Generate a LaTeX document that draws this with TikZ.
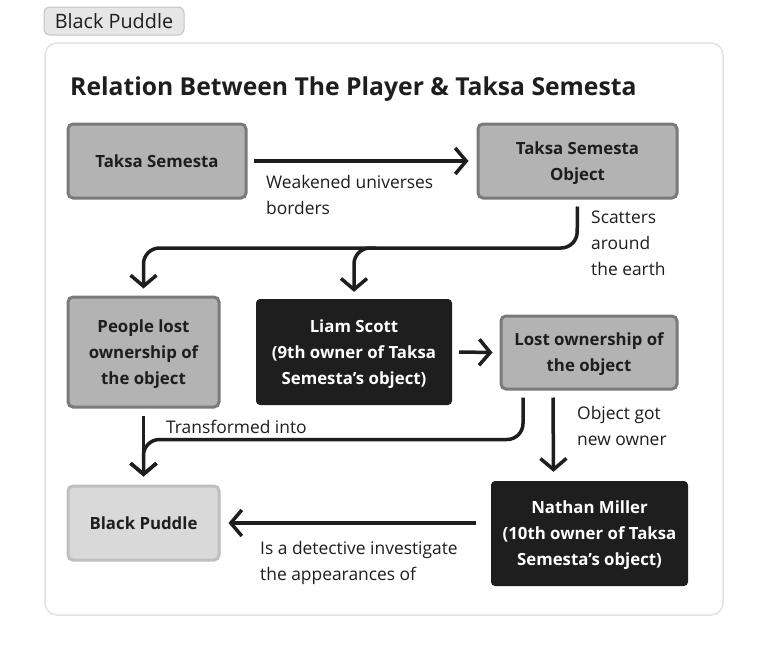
\documentclass[tikz,border=0pt]{standalone}
\usepackage{fontspec}
\setmainfont{Open Sans}
\usetikzlibrary{arrows.meta, positioning, calc}
\definecolor{boxGray}{HTML}{B3B3B3}
\definecolor{edgeGray}{HTML}{7A7A7A}
\definecolor{boxLight}{HTML}{D9D9D9}
\definecolor{edgeLight}{HTML}{BFBFBF}
\definecolor{inkDark}{HTML}{1E1E1E}
\definecolor{cardEdge}{HTML}{E2E2E2}
\definecolor{tabFill}{HTML}{E6E6E6}
\definecolor{tabEdge}{HTML}{C4C4C4}
\tikzset{
  boxText/.style={align=center, inner sep=0pt, font=\fontsize{16.8}{26}\selectfont\bfseries,
                  text depth=-2.5pt},
  grayBox/.style={boxText, draw=edgeGray, line width=3pt, fill=boxGray, rounded corners=5pt, text=inkDark},
  darkBox/.style={boxText, fill=inkDark, rounded corners=4pt, text=white},
  lightBox/.style={boxText, draw=edgeLight, line width=3pt, fill=boxLight, rounded corners=5pt, text=inkDark},
  note/.style={anchor=north west, align=left, inner sep=0pt, text=inkDark,
               font=\fontsize{17.4}{26}\selectfont},
  flow/.style={-{Straight Barb[length=11pt, width=26pt]}, line width=3.5pt, draw=inkDark,
               rounded corners=16pt},
}

\begin{document}
\begin{tikzpicture}[x=1pt, y=-1pt]
\useasboundingbox (0,0) rectangle (768,659);
% frame and tab
\node[draw=tabEdge, line width=1pt, fill=tabFill, rounded corners=6pt,
      minimum width=140pt, minimum height=28pt, inner sep=0pt,
      font=\fontsize{19.8}{22}\selectfont, text=inkDark] (tab) at (114,21) {Black Puddle};
\node[draw=cardEdge, line width=1.5pt, fill=white, rounded corners=12pt,
      minimum width=678pt, minimum height=572pt] (panel) at (384,329) {};
\node[anchor=west, inner sep=0pt, text=inkDark, font=\fontsize{24.7}{30}\selectfont\bfseries]
      (title) at (70,89) {Relation Between The Player \& Taksa Semesta};
% boxes
\node[grayBox, minimum width=178pt, minimum height=74pt] (ts) at (157,161) {Taksa Semesta};
\node[grayBox, minimum width=199pt, minimum height=74pt] (tso) at (577.5,161) {Taksa Semesta\\Object};
\node[grayBox, minimum width=151pt, minimum height=110pt] (plo) at (143.5,352) {People lost\\ownership of\\the object};
\node[darkBox, minimum width=196pt, minimum height=106pt] (ls) at (354,352) {Liam Scott\\(9th owner of Taksa\\Semesta’s object)};
\node[grayBox, minimum width=176pt, minimum height=73pt] (lo) at (589,352.5) {Lost ownership of\\the object};
\node[lightBox, minimum width=151pt, minimum height=74pt] (bp) at (143.5,523) {Black Puddle};
\node[darkBox, minimum width=197pt, minimum height=105pt] (nm) at (589.5,533.5) {Nathan Miller\\(10th owner of Taksa\\Semesta’s object)};
% labels
\node[note] (lblWeak) at (266,175) {Weakened universes\\borders};
\node[note] (lblScatter) at (591,211) {Scatters\\around\\the earth};
\node[note] (lblTrans) at (166,420) {Transformed into};
\node[note] (lblOwner) at (577,406) {Object got\\new owner};
\node[note] (lblDetect) at (260,541) {Is a detective investigate\\the appearances of};
% connectors
\coordinate (scatter) at (577,248);
\draw[flow] ([xshift=6pt]ts.east) -- ([xshift=-8pt]tso.west);
\draw[flow] ([yshift=-7pt]tso.south) -- (scatter) -| ([yshift=7pt]plo.north);
\draw[flow] ($(ls.north |- scatter)+(22,0)$) -| ([yshift=7pt]ls.north);
\draw[flow] ([xshift=7pt]ls.east) -- ([xshift=-7pt]lo.west);
\draw[flow] ([yshift=-7pt]plo.south) -- ([yshift=8pt]bp.north);
\draw[flow] ([xshift=-66pt,yshift=-7pt]lo.south) |- ([yshift=45pt]bp.north) -- ([yshift=8pt]bp.north);
\draw[flow] ([xshift=-36pt,yshift=-7pt]lo.south) -- ([xshift=-36pt,yshift=9pt]nm.north);
\draw[flow] ($(nm.west |- bp.east)+(-15,0)$) -- ([xshift=8pt]bp.east);
\end{tikzpicture}
\end{document}
